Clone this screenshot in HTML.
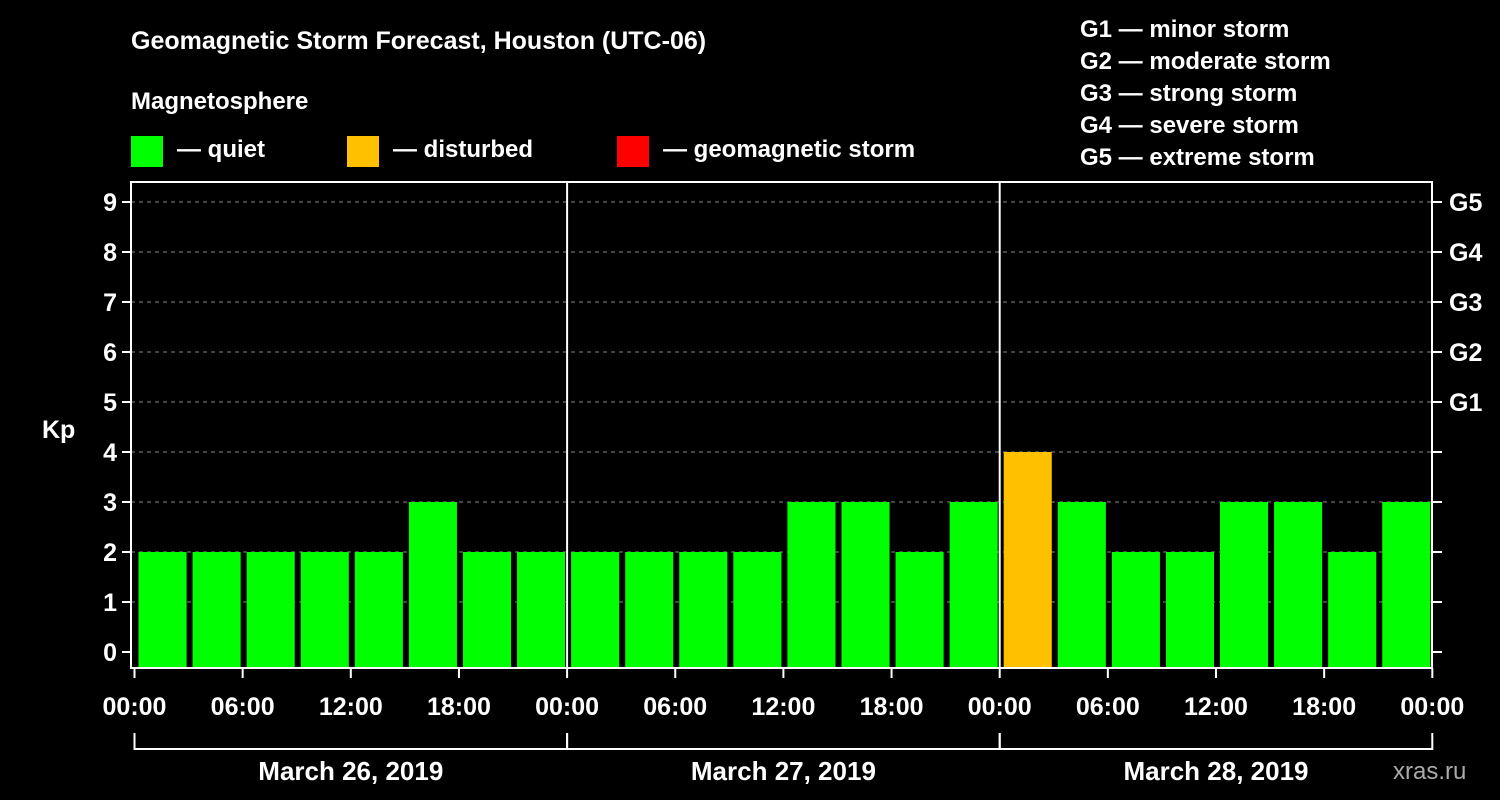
<!DOCTYPE html>
<html><head><meta charset="utf-8"><style>
body{margin:0;background:#000;}
svg{display:block;font-family:"Liberation Sans",Arial,sans-serif;font-weight:bold;}
</style></head><body>
<svg width="1500" height="800">
<rect width="1500" height="800" fill="#000"/>
<text x="131" y="49" font-size="25" fill="#fff">Geomagnetic Storm Forecast, Houston (UTC-06)</text>
<text x="131" y="109" font-size="24" fill="#fff">Magnetosphere</text>
<g>
<rect x="131" y="136" width="32" height="31" fill="#00ff00"/>
<text x="177" y="157" font-size="24" fill="#fff">— quiet</text>
<rect x="347" y="136" width="32" height="31" fill="#ffc000"/>
<text x="393" y="157" font-size="24" fill="#fff">— disturbed</text>
<rect x="617" y="136" width="32" height="31" fill="#ff0000"/>
<text x="663" y="157" font-size="24" fill="#fff">— geomagnetic storm</text>
</g>
<g font-size="24" fill="#fff">
<text x="1080" y="37">G1 — minor storm</text>
<text x="1080" y="69">G2 — moderate storm</text>
<text x="1080" y="101">G3 — strong storm</text>
<text x="1080" y="133">G4 — severe storm</text>
<text x="1080" y="165">G5 — extreme storm</text>
</g>
<text x="42" y="438" font-size="25" fill="#fff">Kp</text>
<g id="plot"></g>
<text x="1393" y="779" font-size="24" fill="#aaa" font-weight="normal">xras.ru</text>
</svg>
<script>
const kpValues=[2,2,2,2,2,3,2,2, 2,2,2,2,3,3,2,3, 4,3,2,2,3,3,2,3];
const dayLabels=["March 26, 2019","March 27, 2019","March 28, 2019"];
const hourLabels=["00:00","06:00","12:00","18:00"];
const gLabels=["G1","G2","G3","G4","G5"];
const NS="http://www.w3.org/2000/svg";
const g=document.getElementById('plot');
const X0=134.5,DAY=432.6,L=131,R=1432,T=182,B=668;
const x=h=>X0+h/24*DAY;
const y=k=>652-k*50;
function mk(t,a,txt){const e=document.createElementNS(NS,t);for(const k in a)e.setAttribute(k,a[k]);if(txt!==undefined)e.textContent=txt;g.appendChild(e);return e;}
for(let k=0;k<=9;k++){
 if(k>=1){const l=mk('line',{x1:L,x2:R,y1:y(k),y2:y(k),stroke:'#888','stroke-dasharray':'4,4','stroke-width':1});
 
 }
 const t=mk('line',{x1:L-9,x2:L,y1:y(k),y2:y(k),stroke:'#fff','stroke-width':2});
 
 
 const t2=mk('line',{x1:R,x2:R+10,y1:y(k),y2:y(k),stroke:'#fff','stroke-width':2});
 
 
 const lb=mk('text',{x:L-14,y:y(k)+9,'text-anchor':'end','font-size':25,fill:'#fff'},String(k));
 
 
}
gLabels.forEach((s,i)=>{const t=mk('text',{x:1449,y:y(i+5)+9,'font-size':25,fill:'#fff'},s);
 
 });
kpValues.forEach((v,i)=>{
 const x1=x(i*3)+4,x2=x(i*3+3)-2;
 const c=v>=5?'#ff0000':v>=4?'#ffc000':'#00ff00';
 const b=mk('rect',{x:x1,y:y(v),width:x2-x1,height:B-y(v),fill:c});
 
 
});
for(let d=1;d<3;d++){const l=mk('line',{x1:x(d*24),x2:x(d*24),y1:T,y2:B,stroke:'#fff','stroke-width':2});
 
 }
const fr=mk('rect',{x:L,y:T,width:R-L,height:B-T,fill:'none',stroke:'#fff','stroke-width':2});


for(let d=0;d<3;d++){
 for(let h=0;h<4;h++){const hh=d*24+h*6;
  const tk=mk('line',{x1:x(hh),x2:x(hh),y1:B,y2:B+10,stroke:'#fff','stroke-width':2});
  
  
  const lb=mk('text',{x:x(hh),y:715,'text-anchor':'middle','font-size':25,fill:'#fff'},hourLabels[h]);
  
  }
 const p=mk('path',{d:`M${x(d*24)},733V749H${x(d*24+24)}V733`,fill:'none',stroke:'#fff','stroke-width':2});
 
 
 const dl=mk('text',{x:x(d*24+12),y:780,'text-anchor':'middle','font-size':26,fill:'#fff'},dayLabels[d]);
 
 
}
const tk=mk('line',{x1:x(72),x2:x(72),y1:B,y2:B+10,stroke:'#fff','stroke-width':2});


const lb=mk('text',{x:x(72),y:715,'text-anchor':'middle','font-size':25,fill:'#fff'},hourLabels[0]);


</script>
</body></html>
